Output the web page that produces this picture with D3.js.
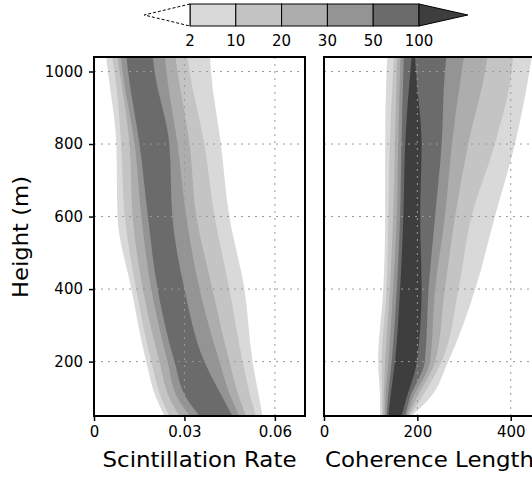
<!DOCTYPE html>
<html>
<head>
<meta charset="utf-8">
<script src="https://cdn.jsdelivr.net/npm/d3@7"></script>
<style>
  body { margin: 0; background: #fff; }
  text { font-family: "DejaVu Sans", sans-serif; fill: #000; }
  .tick-label { font-size: 15px; }
  .axis-title { font-size: 21px; }
  .grid-line { stroke: #9a9a9a; stroke-width: 1; stroke-dasharray: 2,5; }
</style>
</head>
<body>
<div id="wrapper"></div>
<script>
// 1. Data

const levels = [2, 10, 20, 30, 50, 100]
const levelColors = ["#d9d9d9", "#c4c4c4", "#adadad", "#949494", "#6b6b6b", "#3e3e3e"]

const heights = [50, 100, 200, 400, 600, 800, 1000, 1040]
const heightTicks = [200, 400, 600, 800, 1000]

// scintillation rate: left / right edge of each frequency band, per height
const scintLo = [
  [0.0234, 0.0206, 0.0173, 0.0124, 0.0078, 0.0074, 0.0046, 0.0040],
  [0.0250, 0.0223, 0.0190, 0.0140, 0.0102, 0.0090, 0.0068, 0.0060],
  [0.0283, 0.0250, 0.0217, 0.0162, 0.0128, 0.0118, 0.0085, 0.0078],
  [0.0317, 0.0277, 0.0244, 0.0190, 0.0157, 0.0135, 0.0095, 0.0090],
  [0.0350, 0.0306, 0.0267, 0.0211, 0.0179, 0.0151, 0.0113, 0.0108],
]
const scintHi = [
  [0.0559, 0.0548, 0.0526, 0.0499, 0.0449, 0.0421, 0.0388, 0.0385],
  [0.0537, 0.0520, 0.0493, 0.0449, 0.0400, 0.0366, 0.0317, 0.0310],
  [0.0504, 0.0482, 0.0449, 0.0393, 0.0340, 0.0317, 0.0277, 0.0270],
  [0.0482, 0.0455, 0.0416, 0.0350, 0.0306, 0.0277, 0.0240, 0.0235],
  [0.0459, 0.0427, 0.0366, 0.0300, 0.0260, 0.0250, 0.0201, 0.0195],
]
const scintTicks = [0, 0.03, 0.06]

// coherence length
const cohLo = [
  [120, 120, 116, 127, 131, 131, 134, 136],
  [124, 124, 124, 134, 138, 141, 148, 150],
  [127, 128, 131, 141, 148, 152, 156, 157],
  [131, 132, 138, 148, 156, 159, 163, 164],
  [134, 137, 145, 156, 163, 166, 170, 171],
  [138, 142, 152, 163, 170, 174, 185, 188],
]
const cohHi = [
  [188, 227, 266, 324, 366, 409, 440, 445],
  [184, 209, 252, 288, 316, 366, 402, 405],
  [181, 199, 238, 259, 281, 309, 345, 350],
  [177, 191, 227, 238, 259, 274, 295, 300],
  [174, 184, 216, 224, 238, 252, 259, 262],
  [166, 177, 199, 209, 206, 209, 197, 195],
]
const cohTicks = [0, 200, 400]

// 2. Dimensions

const width = 532
const height = 478
const panelTop = 57
const panelBottom = 416
const panels = [
  { id: "scint", left: 94, right: 305, domain: [0, 0.07], lo: scintLo, hi: scintHi,
    ticks: scintTicks, format: d => d === 0 ? "0" : d3.format(".2f")(d),
    title: "Scintillation Rate", showY: true },
  { id: "coh", left: 324, right: 535, domain: [0, 452], lo: cohLo, hi: cohHi,
    ticks: cohTicks, format: d3.format("d"),
    title: "Coherence Length", showY: false },
]

// 3. Draw canvas

const svg = d3.select("#wrapper")
  .append("svg")
    .attr("width", width)
    .attr("height", height)

const yScale = d3.scaleLinear()
  .domain([50, 1040])
  .range([panelBottom, panelTop])

const defs = svg.append("defs")

panels.forEach(p => {
  const xScale = d3.scaleLinear()
    .domain(p.domain)
    .range([p.left, p.right])

  defs.append("clipPath")
      .attr("id", `clip-${p.id}`)
    .append("rect")
      .attr("x", p.left)
      .attr("y", panelTop)
      .attr("width", p.right - p.left)
      .attr("height", panelBottom - panelTop)

  const g = svg.append("g")

  // filled frequency bands, lightest first
  const areaGenerator = d3.area()
    .curve(d3.curveMonotoneY)
    .y(d => yScale(d.h))
    .x0(d => xScale(d.lo))
    .x1(d => xScale(d.hi))

  const bands = g.append("g").attr("clip-path", `url(#clip-${p.id})`)
  p.lo.forEach((row, i) => {
    const pts = heights.map((h, j) => ({ h, lo: row[j], hi: p.hi[i][j] }))
    bands.append("path")
      .attr("d", areaGenerator(pts))
      .attr("fill", levelColors[i])
  })

  // grid
  const grid = g.append("g").attr("clip-path", `url(#clip-${p.id})`)
  heightTicks.forEach(t => {
    grid.append("line")
      .attr("class", "grid-line")
      .attr("x1", p.left).attr("x2", p.right)
      .attr("y1", yScale(t)).attr("y2", yScale(t))
  })
  p.ticks.filter(t => t > 0).forEach(t => {
    grid.append("line")
      .attr("class", "grid-line")
      .attr("x1", xScale(t)).attr("x2", xScale(t))
      .attr("y1", panelTop).attr("y2", panelBottom)
  })

  // x axis
  const xAxis = d3.axisBottom(xScale)
    .tickValues(p.ticks)
    .tickFormat(p.format)
    .tickSize(5)
    .tickPadding(5)
  const xg = g.append("g")
    .attr("transform", `translate(0, ${panelBottom})`)
    .call(xAxis)
  xg.select(".domain").remove()
  xg.selectAll(".tick line").attr("stroke", "#000").attr("stroke-width", 1.5)
  xg.selectAll(".tick text").attr("class", "tick-label").attr("font-family", null).attr("font-size", null)

  if (p.showY) {
    const yAxis = d3.axisLeft(yScale)
      .tickValues(heightTicks)
      .tickFormat(d3.format("d"))
      .tickSize(5)
      .tickPadding(6)
    const yg = g.append("g")
      .attr("transform", `translate(${p.left}, 0)`)
      .call(yAxis)
    yg.select(".domain").remove()
    yg.selectAll(".tick line").attr("stroke", "#000").attr("stroke-width", 1.5)
    yg.selectAll(".tick text").attr("class", "tick-label").attr("font-family", null).attr("font-size", null)
  }

  // frame
  g.append("rect")
    .attr("x", p.left)
    .attr("y", panelTop)
    .attr("width", p.right - p.left)
    .attr("height", panelBottom - panelTop)
    .attr("fill", "none")
    .attr("stroke", "#000")
    .attr("stroke-width", 2)

  g.append("text")
    .attr("class", "axis-title")
    .attr("x", (p.left + p.right) / 2)
    .attr("y", 467)
    .attr("text-anchor", "middle")
    .attr("textLength", p.id === "scint" ? 194 : 209)
    .attr("lengthAdjust", "spacingAndGlyphs")
    .text(p.title)
})

svg.append("text")
  .attr("class", "axis-title")
  .attr("transform", "translate(28, 237) rotate(-90)")
  .attr("text-anchor", "middle")
  .attr("textLength", 122)
  .attr("lengthAdjust", "spacingAndGlyphs")
  .text("Height (m)")

// 4. Color bar

const barTop = 4
const barBottom = 26
const barMid = (barTop + barBottom) / 2
const barScale = d3.scalePoint()
  .domain(levels)
  .range([190, 419])
const step = barScale.step()
const bar = svg.append("g")

levels.slice(0, -1).forEach((lv, i) => {
  bar.append("rect")
    .attr("x", barScale(lv))
    .attr("y", barTop)
    .attr("width", step)
    .attr("height", barBottom - barTop)
    .attr("fill", levelColors[i])
    .attr("stroke", "#000")
    .attr("stroke-width", 1)
})

const first = barScale(levels[0])
const last = barScale(levels[levels.length - 1])
bar.append("path")
  .attr("d", `M${first},${barTop}L${first - step},${barMid}L${first},${barBottom}`)
  .attr("fill", "#fff")
  .attr("stroke", "#000")
  .attr("stroke-dasharray", "3,2")
bar.append("line")
  .attr("x1", first).attr("x2", first)
  .attr("y1", barTop).attr("y2", barBottom)
  .attr("stroke", "#000")
bar.append("path")
  .attr("d", `M${last},${barTop}L${last + step + 3},${barMid}L${last},${barBottom}Z`)
  .attr("fill", levelColors[levels.length - 1])
  .attr("stroke", "#000")

levels.forEach(lv => {
  bar.append("text")
    .attr("class", "tick-label")
    .attr("x", barScale(lv))
    .attr("y", 46)
    .attr("text-anchor", "middle")
    .text(lv)
})
</script>
</body>
</html>
